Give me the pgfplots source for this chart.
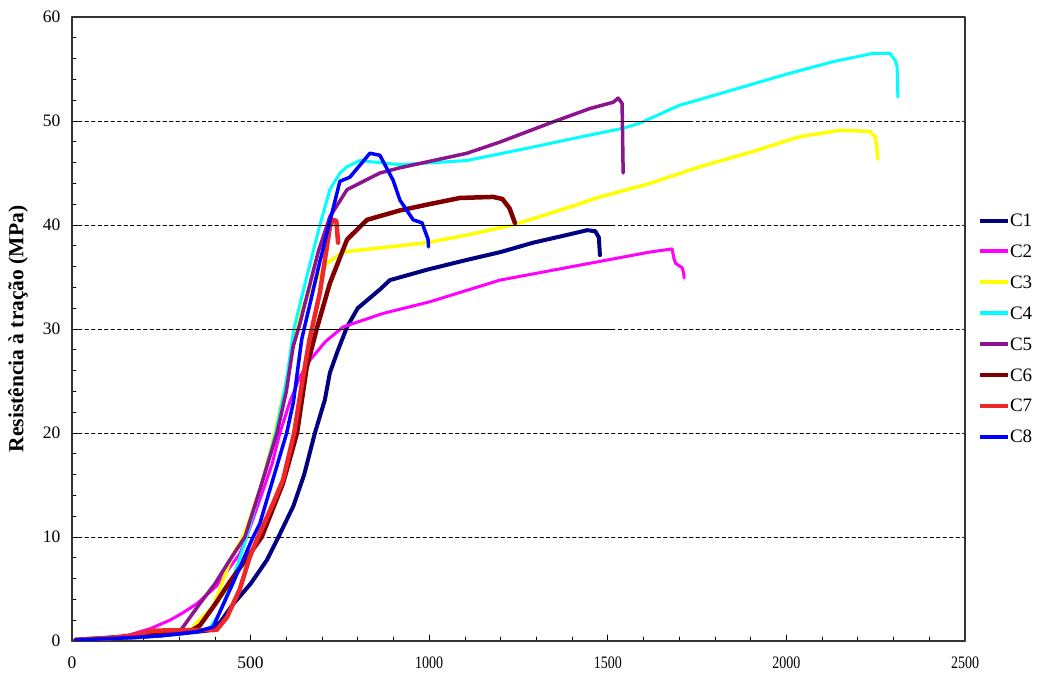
\documentclass[border=0pt]{standalone}
\usepackage{pgfplots}
\pgfplotsset{compat=1.18}
\usepackage{fontspec}
\setmainfont{Liberation Serif}
\definecolor{cnavy}{RGB}{0,0,128}
\definecolor{cmag}{RGB}{255,0,255}
\definecolor{cyel}{RGB}{255,255,0}
\definecolor{ccyan}{RGB}{0,255,255}
\definecolor{cpur}{RGB}{140,20,140}
\definecolor{cdred}{RGB}{128,0,0}
\definecolor{cred}{RGB}{238,40,40}
\definecolor{cblue}{RGB}{0,0,255}
\begin{document}
\begin{tikzpicture}
\path[use as bounding box] (-72pt,-36pt) rectangle (965pt,641pt);
\begin{axis}[
  scale only axis, width=893pt, height=624pt,
  xmin=0, xmax=2500, ymin=0, ymax=60,
  xtick={0,500,...,2500}, ytick={0,10,...,60},
  xticklabels={0,500,\scalebox{0.8}[1]{1000},\scalebox{0.8}[1]{1500},\scalebox{0.8}[1]{2000},\scalebox{0.8}[1]{2500}},
  minor x tick num=4, minor y tick num=4,
  tick align=inside, xtick pos=bottom, ytick pos=left,
  major tick length=6pt, minor tick length=4pt,
  every tick/.style={black, line width=0.7pt},
  axis line style={black!80, line width=1.1pt},
  font=\fontsize{17.5}{17.5}\selectfont,
  /pgf/number format/assume math mode=true,
  /pgf/number format/1000 sep={},
  xticklabel style={yshift=-12pt},
  yticklabel style={xshift=-8pt},
  ymajorgrids, 
  grid style={black, line width=0.8pt, dash pattern=on 3.5pt off 3pt},
  ylabel={\textbf{Resistência à tração (MPa)}},
  ylabel style={at={(axis description cs:-0.0605,0.5)}, anchor=center, font=\fontsize{21.5}{21.5}\selectfont},
  legend style={at={(1.011,0.687)}, anchor=north west, draw=none, fill=none,
    font=\fontsize{19}{19}\selectfont,
    nodes={inner sep=0pt, text height=12pt, text depth=0pt},
    row sep=18.9pt},
  legend cell align=left,
  /tikz/every even column/.append style={column sep=6pt},
  legend image code/.code={\draw[#1, line width=4pt] (0pt,0pt) -- (28pt,0pt);},
  line join=round, line cap=round,
]
% C1
\addplot[cnavy, line width=4pt] coordinates {(10,0.1)(100,0.2)(200,0.4)(300,0.7)(380,1.0)(415,1.8)(450,3.5)(500,5.5)(546,7.8)(578,10)(620,13)(650,16)(680,20)(708,23.2)(722,25.8)(745,28)(770,30.2)(800,32)(862,33.8)(890,34.7)(994,35.7)(1100,36.6)(1200,37.4)(1291,38.3)(1380,39)(1442,39.5)(1465,39.4)(1475,38.8)(1478,37.1)};
\addlegendentry{C1}
% C2
\addplot[cmag, line width=3pt] coordinates {(10,0.1)(100,0.3)(162,0.6)(220,1.2)(274,2.0)(310,2.7)(350,3.6)(405,5.3)(440,7)(470,8.4)(489,10)(530,14)(560,17)(582,20)(610,23)(638,25.4)(666,27)(710,28.8)(759,30.2)(871,31.5)(1000,32.6)(1198,34.7)(1400,36)(1618,37.4)(1680,37.7)(1685,36.8)(1690,36.3)(1708,35.9)(1712,35.4)(1714,34.9)};
\addlegendentry{C2}
% C3
\addplot[cyel, line width=3.5pt] coordinates {(10,0.1)(150,0.3)(250,0.6)(320,0.9)(339,1.3)(350,1.8)(395,3.3)(451,8.4)(479,10)(490,11)(530,15)(568,20)(600,25)(630,30)(650,32.5)(690,35)(713,36.3)(759,37.4)(862,37.8)(994,38.3)(1100,39)(1235,40)(1400,41.8)(1478,42.7)(1618,44)(1758,45.6)(1900,47)(2038,48.5)(2150,49.1)(2234,49)(2248,48.5)(2253,47.5)(2256,46.3)};
\addlegendentry{C3}
% C4
\addplot[ccyan, line width=3pt] coordinates {(10,0.1)(150,0.3)(250,0.5)(350,0.9)(386,1.25)(410,2.5)(440,5)(470,8)(489,10)(530,15)(570,20)(600,25)(621,30)(657,35)(694,40)(722,43.4)(750,45)(770,45.6)(806,46.2)(860,46)(918,45.8)(1106,46.2)(1291,47.5)(1400,48.3)(1543,49.3)(1590,49.8)(1700,51.5)(1851,53)(2000,54.5)(2130,55.7)(2200,56.2)(2242,56.5)(2290,56.5)(2305,55.8)(2310,55.2)(2312,52.3)};
\addlegendentry{C4}
% C5
\addplot[cpur, line width=3.5pt] coordinates {(10,0.1)(150,0.4)(250,0.6)(300,0.9)(311,1.35)(358,3.6)(400,5.5)(442,7.8)(484,10)(530,15)(574,20)(600,24)(619,28.3)(638,30.5)(657,33.1)(690,37.5)(722,40.8)(770,43.4)(862,45)(918,45.5)(1106,46.9)(1200,48)(1338,49.8)(1450,51.2)(1515,51.8)(1529,52.2)(1540,51.7)(1543,45)};
\addlegendentry{C5}
% C6
\addplot[cdred, line width=4.5pt] coordinates {(10,0.1)(150,0.4)(250,0.6)(330,0.9)(358,1.5)(400,3.5)(442,5.7)(480,7.5)(531,10)(591,15.2)(630,20)(657,26.3)(685,30)(722,34.4)(770,38.6)(826,40.5)(918,41.4)(1000,42)(1086,42.6)(1179,42.7)(1205,42.5)(1225,41.6)(1240,40.2)};
\addlegendentry{C6}
% C7
\addplot[cred, line width=4.5pt] coordinates {(10,0.1)(150,0.4)(227,1.0)(405,1.06)(434,2.3)(470,5)(498,8.1)(521,10)(560,13)(591,15.5)(622,20)(645,25)(665,29)(694,33.5)(722,39.8)(730,40.5)(740,40.4)(745,38.3)};
\addlegendentry{C7}
% C8
\addplot[cblue, line width=3.5pt] coordinates {(10,0.1)(150,0.3)(250,0.5)(350,0.9)(395,1.35)(451,5.6)(507,10)(526,11.3)(601,20)(620,23)(643,29)(694,36.5)(750,44.2)(778,44.6)(834,46.9)(862,46.7)(899,44.3)(918,42.4)(955,40.5)(980,40.2)(997,38.6)(998,37.9)};
\addlegendentry{C8}
\draw[black, line width=0.8pt] (axis cs:610,30) -- (axis cs:1512,30);
\draw[black, line width=0.8pt] (axis cs:610,40) -- (axis cs:1512,40);
\draw[black, line width=0.8pt] (axis cs:610,50) -- (axis cs:1730,50);
\end{axis}
\end{tikzpicture}
\end{document}
